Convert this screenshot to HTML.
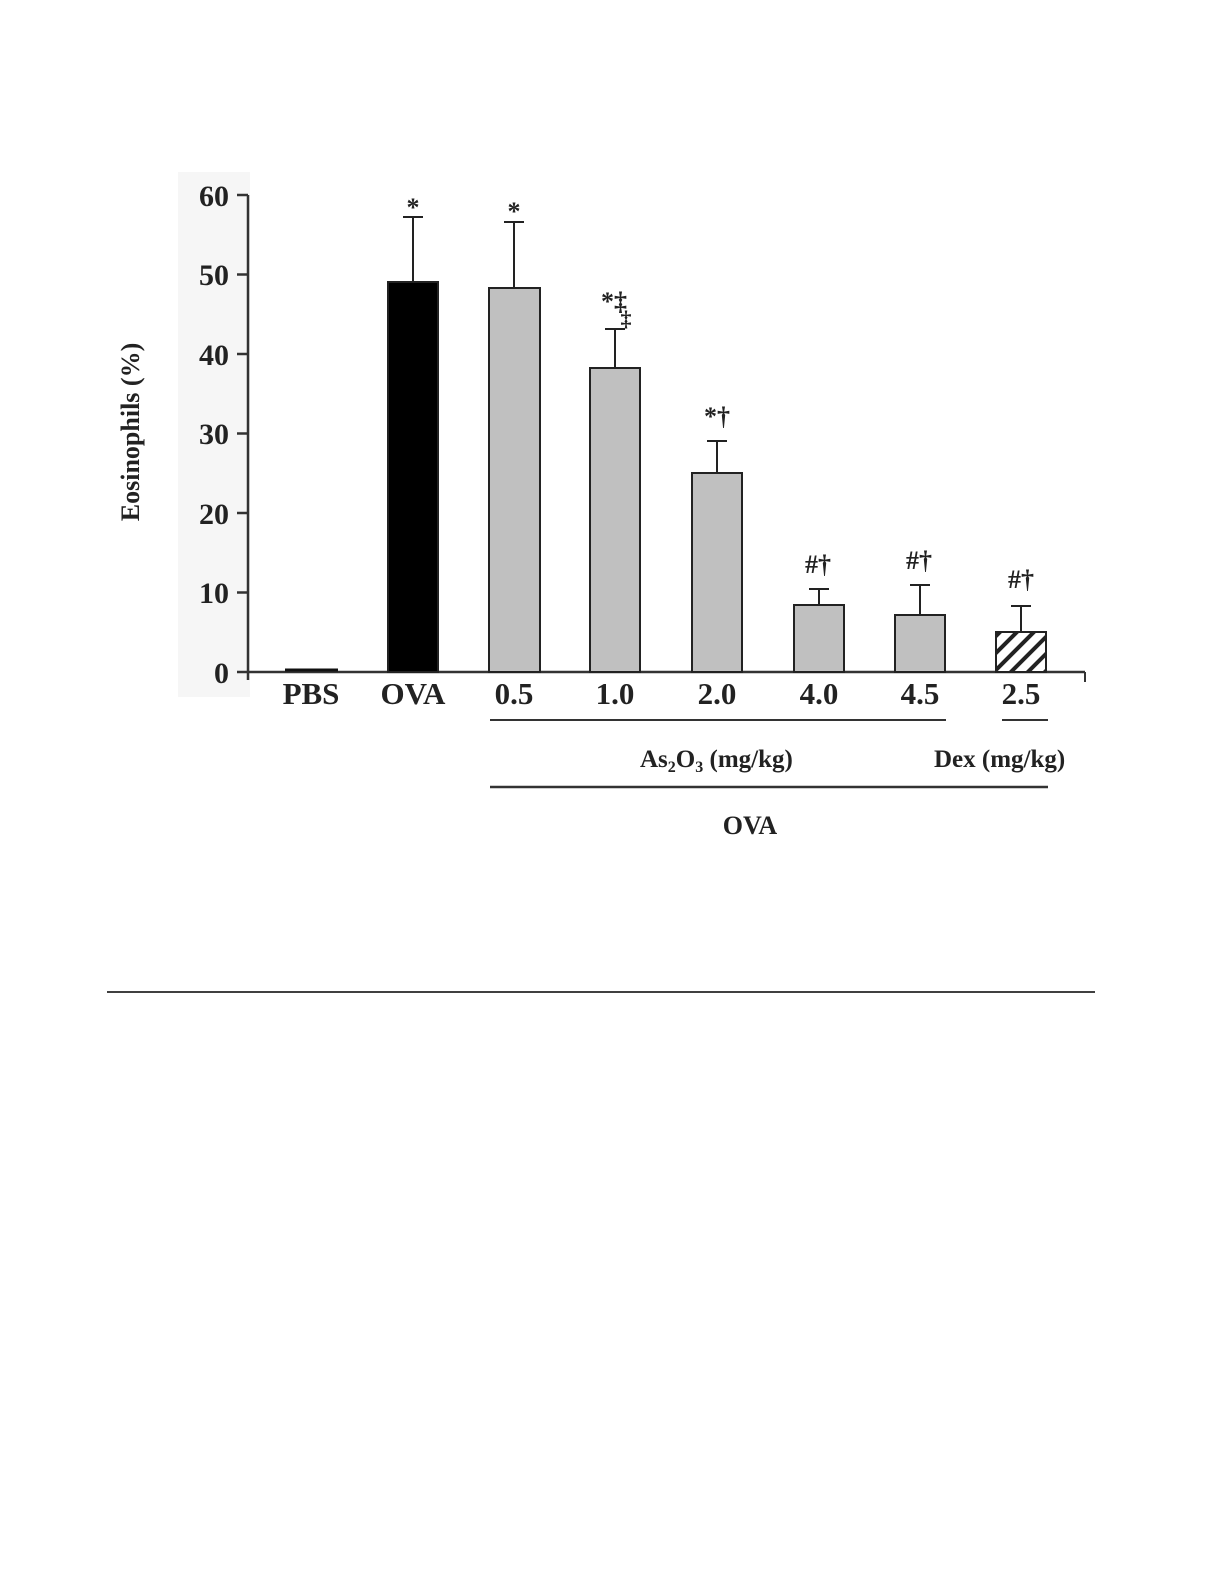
<!DOCTYPE html>
<html><head><meta charset="utf-8"><style>
html,body{margin:0;padding:0;background:#fff;}
svg{display:block;}
text{font-family:"Liberation Serif",serif;font-weight:bold;fill:#222;}
</style></head><body>
<svg width="1221" height="1585" viewBox="0 0 1221 1585" xmlns="http://www.w3.org/2000/svg">
<defs>
<pattern id="hatch" patternUnits="userSpaceOnUse" width="12" height="12" patternTransform="rotate(45)">
<rect width="12" height="12" fill="#fff"/>
<rect x="0" y="0" width="4" height="12" fill="#222"/>
</pattern>
</defs>
<rect x="178" y="172" width="72" height="525" fill="#f6f6f6"/>
<line x1="248" y1="195" x2="248" y2="680" stroke="#333" stroke-width="2.5"/>
<line x1="237" y1="672" x2="1085" y2="672" stroke="#333" stroke-width="2.5"/>
<line x1="1085" y1="672" x2="1085" y2="682" stroke="#333" stroke-width="2"/>
<g stroke="#333" stroke-width="2.5">
<line x1="237" y1="195" x2="248" y2="195"/>
<line x1="237" y1="274.5" x2="248" y2="274.5"/>
<line x1="237" y1="354" x2="248" y2="354"/>
<line x1="237" y1="433.5" x2="248" y2="433.5"/>
<line x1="237" y1="513" x2="248" y2="513"/>
<line x1="237" y1="592.5" x2="248" y2="592.5"/>
</g>
<g font-size="30" text-anchor="end">
<text x="229" y="206">60</text>
<text x="229" y="285">50</text>
<text x="229" y="365">40</text>
<text x="229" y="444">30</text>
<text x="229" y="524">20</text>
<text x="229" y="603">10</text>
<text x="229" y="683">0</text>
</g>
<text transform="translate(139,432) rotate(-90)" font-size="26" text-anchor="middle">Eosinophils (%)</text>
<line x1="285" y1="670" x2="338" y2="670" stroke="#111" stroke-width="3"/>
<g stroke="#222" stroke-width="2">
<line x1="413" y1="217" x2="413" y2="282"/><line x1="403" y1="217" x2="423" y2="217"/>
<rect x="388" y="282" width="50" height="390" fill="#000"/>
<line x1="514" y1="222" x2="514" y2="288"/><line x1="504" y1="222" x2="524" y2="222"/>
<rect x="489" y="288" width="51" height="384" fill="#c0c0c0"/>
<line x1="615" y1="329" x2="615" y2="368"/><line x1="605" y1="329" x2="625" y2="329"/>
<rect x="590" y="368" width="50" height="304" fill="#c0c0c0"/>
<line x1="717" y1="441" x2="717" y2="473"/><line x1="707" y1="441" x2="727" y2="441"/>
<rect x="692" y="473" width="50" height="199" fill="#c0c0c0"/>
<line x1="819" y1="589" x2="819" y2="605"/><line x1="809" y1="589" x2="829" y2="589"/>
<rect x="794" y="605" width="50" height="67" fill="#c0c0c0"/>
<line x1="920" y1="585" x2="920" y2="615"/><line x1="910" y1="585" x2="930" y2="585"/>
<rect x="895" y="615" width="50" height="57" fill="#c0c0c0"/>
<line x1="1021" y1="606" x2="1021" y2="632"/><line x1="1011" y1="606" x2="1031" y2="606"/>
<rect x="996" y="632" width="50" height="40" fill="url(#hatch)"/>
</g>
<g font-size="26" text-anchor="middle" fill="#444">
<text x="413" y="216">*</text>
<text x="514" y="220">*</text>
<text x="614" y="310">*‡</text>
<text x="626" y="326" font-size="22">‡</text>
<text x="717" y="425">*†</text>
<text x="818" y="573">#†</text>
<text x="919" y="569">#†</text>
<text x="1021" y="588">#†</text>
</g>
<g font-size="31" text-anchor="middle">
<text x="311" y="704">PBS</text>
<text x="413" y="704">OVA</text>
<text x="514" y="704">0.5</text>
<text x="615" y="704">1.0</text>
<text x="717" y="704">2.0</text>
<text x="819" y="704">4.0</text>
<text x="920" y="704">4.5</text>
<text x="1021" y="704">2.5</text>
</g>
<line x1="490" y1="720" x2="946" y2="720" stroke="#333" stroke-width="2"/>
<line x1="1002" y1="720" x2="1048" y2="720" stroke="#333" stroke-width="2"/>
<text x="640" y="767" font-size="25">As<tspan font-size="16" dy="5">2</tspan><tspan dy="-5">O</tspan><tspan font-size="16" dy="5">3</tspan><tspan dy="-5"> (mg/kg)</tspan></text>
<text x="934" y="767" font-size="25">Dex (mg/kg)</text>
<line x1="490" y1="787" x2="1048" y2="787" stroke="#333" stroke-width="2.5"/>
<text x="750" y="834" font-size="26" text-anchor="middle">OVA</text>
<line x1="107" y1="992" x2="1095" y2="992" stroke="#000" stroke-width="1.5"/>
</svg>
</body></html>
